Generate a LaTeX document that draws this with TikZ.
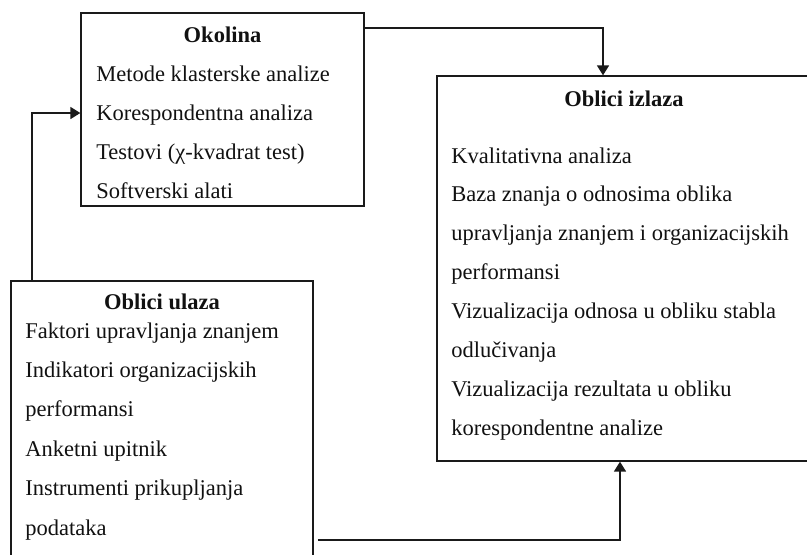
\documentclass[tikz,border=0pt]{standalone}
\usepackage{fontspec}
\setmainfont{Liberation Serif}
\usepackage{xcolor}
\usepackage{tikz}
\usetikzlibrary{calc,arrows.meta}
\definecolor{line}{HTML}{1A1A1A}
\definecolor{ink}{HTML}{111111}
\tikzset{
  box/.style={draw=line, line width=0.9pt, inner sep=0pt},
  conn/.style={draw=line, line width=0.9pt, -{Triangle[length=7pt,width=8.5pt]}},
  head/.style={text=ink, font=\fontsize{16}{19}\selectfont\bfseries, anchor=base, inner sep=0pt},
  item/.style={text=ink, font=\fontsize{16}{19}\selectfont, anchor=base west, inner sep=0pt},
}

\begin{document}
\begin{tikzpicture}[x=0.025cm, y=-0.025cm]
\useasboundingbox (0,0) rectangle (807,554);
\clip (0,0) rectangle (807,554);
% boxes
\node[box, minimum width=7.075cm, minimum height=4.825cm] (oko) at (222.5,109.5) {};
\node[box, minimum width=9.35cm, minimum height=9.625cm] (izl) at (624,268.5) {};
\node[box, minimum width=7.55cm, minimum height=7.225cm] (ula) at (162,425.5) {};

% Okolina
\node[head] (okoT) at (222.5,42) {Okolina};
\foreach \t [count=\i] in {Metode klasterske analize, Korespondentna analiza,
    {Testovi (χ-kvadrat test)}, Softverski alati}
  \node[item] (oko\i) at (96,{42+39*\i}) {\t};

% Oblici izlaza
\node[head] (izlT) at (624,106) {Oblici izlaza};
\foreach \t [count=\i] in {Kvalitativna analiza, Baza znanja o odnosima oblika,
    upravljanja znanjem i organizacijskih, performansi,
    Vizualizacija odnosa u obliku stabla, odlučivanja,
    Vizualizacija rezultata u obliku, korespondentne analize}
  \node[item] (izl\i) at (451,{124.1+38.9*\i}) {\t};

% Oblici ulaza
\node[head] (ulaT) at (162,309) {Oblici ulaza};
\foreach \t [count=\i] in {Faktori upravljanja znanjem, Indikatori organizacijskih,
    performansi, Anketni upitnik, Instrumenti prikupljanja, podataka}
  \node[item] (ula\i) at (25,{298.6+39.4*\i}) {\t};

% connectors
\draw[conn] (oko.east |- 0,28) -| (603,0 |- izl.north);
\draw[conn] (32,0 |- ula.north) |- (oko.west |- 0,113);
\draw[conn] ([xshift=3pt]ula.east |- 0,540) -| (620,0 |- izl.south);
\end{tikzpicture}
\end{document}
